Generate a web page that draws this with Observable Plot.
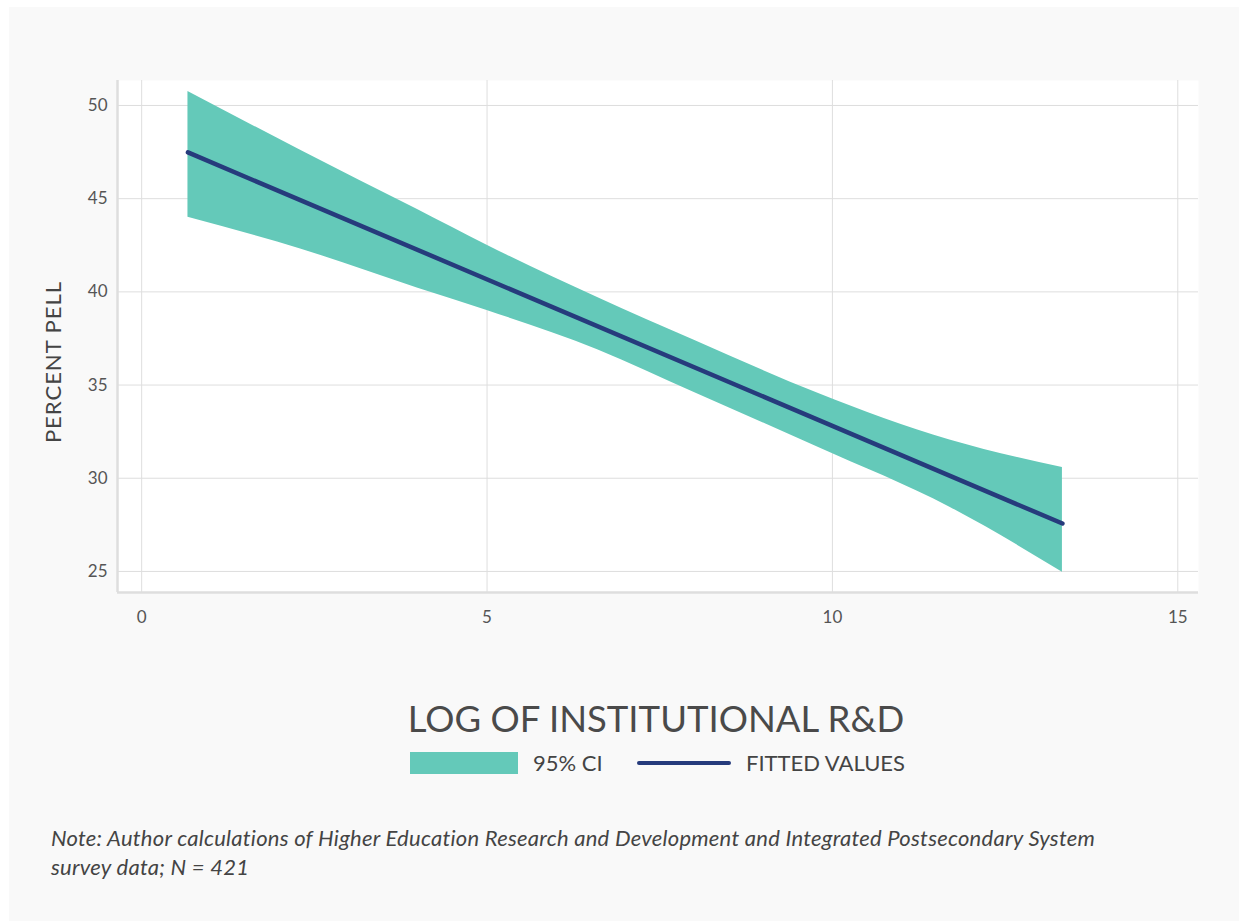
<!DOCTYPE html>
<html>
<head>
<meta charset="utf-8">
<script src="https://cdn.jsdelivr.net/npm/d3@7"></script>
<script src="https://cdn.jsdelivr.net/npm/@observablehq/plot@0.6"></script>
<style>
  html, body { margin: 0; padding: 0; background: #ffffff; width: 1239px; height: 921px; overflow: hidden; }
  #panel { position: absolute; left: 9px; top: 7px; width: 1230px; height: 914px; background: #f9f9f9; }
  #chart { position: absolute; left: 0; top: 0; }
  .t { position: absolute; font-family: Lato, "Noto Sans", sans-serif; color: #444; white-space: nowrap; }
  #ylabel { left: 52px; top: 362px; font-size: 22px; transform: translate(-50%, -50%) rotate(-90deg); letter-spacing: 1px; color: #444; }
  #xtitle { left: 656px; top: 718px; font-size: 36.5px; transform: translate(-50%, -50%); color: #4a4a4a; }
  #legend { position: absolute; left: 410px; top: 750px; height: 26px; }
  .sw { position: absolute; }
  .lt { position: absolute; font-family: Lato, "Noto Sans", sans-serif; font-size: 22px; color: #444; top: 0; line-height: 26px; white-space: nowrap; }
  #note { left: 51px; top: 823px; font-size: 22px; letter-spacing: 0.25px; font-style: italic; line-height: 29px; color: #444; }
</style>
</head>
<body>
<div id="panel"></div>
<div id="chart"></div>
<div class="t" id="ylabel">PERCENT PELL</div>
<div class="t" id="xtitle">LOG OF INSTITUTIONAL R&amp;D</div>
<div id="legend">
  <div class="sw" id="swBand" style="left:0;top:2px;width:108px;height:22px;"></div>
  <div class="lt" style="left:123px;">95% CI</div>
  <div class="sw" id="swLine" style="left:227px;top:11px;width:94px;height:4px;border-radius:2px;"></div>
  <div class="lt" style="left:336px;">FITTED VALUES</div>
</div>
<div class="t" id="note">Note: Author calculations of Higher Education Research and Development and Integrated Postsecondary System<br>survey data; N = 421</div>
<script>
// ---- data ----
const ciX     = [0.67, 2.3, 4.0, 5.0, 6.6, 8.0, 9.8, 11.7, 13.33];
const ciLower = [44.0, 42.3, 40.2, 39.0, 36.9, 34.6, 31.65, 28.45, 24.95];
const ciUpper = [50.75, 47.6, 44.4, 42.5, 39.7, 37.4, 34.55, 32.05, 30.58];
const fitX    = [0.67, 13.33];
const fitY    = [47.48, 27.57];
const xTicks  = [0, 5, 10, 15];
const yTicks  = [25, 30, 35, 40, 45, 50];
const xDomain = [-0.35, 15.3];
const yDomain = [23.87, 51.34];

const bandColor = "#64c9b9";
const lineColor = "#263b7c";
const gridColor = "#dedede";

document.getElementById("swBand").style.background = bandColor;
document.getElementById("swLine").style.background = lineColor;

const band = ciX.map((x, i) => ({x, lo: ciLower[i], hi: ciUpper[i]}));
const fit = fitX.map((x, i) => ({x, y: fitY[i]}));

const chart = Plot.plot({
  width: 1239,
  height: 640,
  marginLeft: 117,
  marginRight: 41,
  marginTop: 80,
  marginBottom: 48,
  style: { background: "transparent", fontFamily: "Lato, 'Noto Sans', sans-serif", fontSize: "17px", color: "#555" },
  x: { domain: xDomain },
  y: { domain: yDomain },
  marks: [
    Plot.frame({ fill: "white", stroke: null }),
    Plot.gridX(xTicks, { stroke: gridColor, strokeOpacity: 1, strokeWidth: 1 }),
    Plot.gridY(yTicks, { stroke: gridColor, strokeOpacity: 1, strokeWidth: 1 }),
    Plot.areaY(band, { x: "x", y1: "lo", y2: "hi", fill: bandColor, fillOpacity: 1, curve: "monotone-x" }),
    Plot.line(fit, { x: "x", y: "y", stroke: lineColor, strokeWidth: 4.5, strokeLinecap: "round" }),
    Plot.ruleX([xDomain[0]], { stroke: gridColor, strokeWidth: 2.5 }),
    Plot.ruleY([yDomain[0]], { stroke: gridColor, strokeWidth: 2.5 }),
    Plot.axisY(yTicks, { tickSize: 0, tickPadding: 10, label: null, fill: "#555", fontSize: 17 }),
    Plot.axisX(xTicks, { tickSize: 0, tickPadding: 18, label: null, fill: "#555", fontSize: 17 })
  ]
});
document.getElementById("chart").appendChild(chart);
</script>
</body>
</html>
